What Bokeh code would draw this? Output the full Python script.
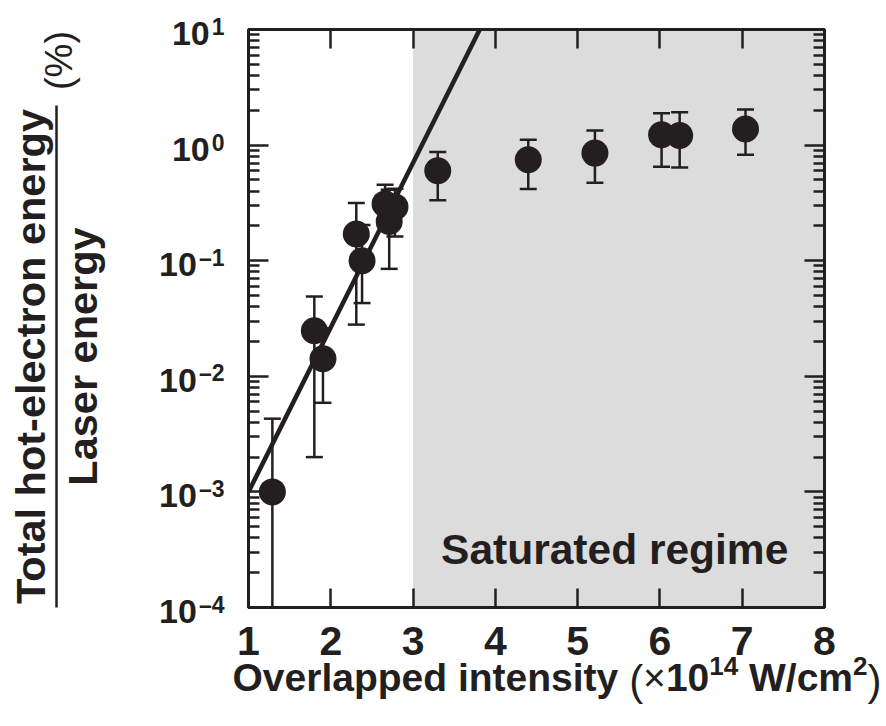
import math
from bokeh.plotting import figure
from bokeh.layouts import column, row
from bokeh.models import Range1d, LinearAxis, LogAxis, FixedTicker, BoxAnnotation, Label
from bokeh.core.properties import value
from bokeh.embed import file_html
from bokeh.resources import INLINE

# ---------------- data ----------------
intensity = [1.29, 1.80, 1.905, 2.31, 2.38, 2.66, 2.71, 2.78, 3.30, 4.40, 5.21, 6.02, 6.24, 7.04]
energy_fraction = [0.0010, 0.0248, 0.0142, 0.170, 0.100, 0.310, 0.218, 0.292, 0.60, 0.746, 0.853, 1.23, 1.21, 1.38]
err_low = [1.0e-4, 0.0020, 0.0059, 0.028, 0.043, 0.200, 0.085, 0.162, 0.334, 0.417, 0.472, 0.65, 0.64, 0.824]
err_high = [0.0043, 0.049, 0.026, 0.316, 0.204, 0.454, 0.410, 0.420, 0.87, 1.11, 1.34, 1.89, 1.92, 2.03]
fit_x = [1.0, 3.81]
fit_y = [1.0e-3, 10.0]
saturated_from = 3.0
saturated_label = "Saturated regime"
x_ticks = [1, 2, 3, 4, 5, 6, 7, 8]
x_tick_labels = ["1", "2", "3", "4", "5", "6", "7", "8"]
y_ticks = [1e-4, 1e-3, 1e-2, 1e-1, 1e0, 1e1]
y_tick_base = "10"
y_tick_exponents = ["\u20134", "\u20133", "\u20132", "\u20131", "0", "1"]
y_title_num = "Total hot-electron energy"
y_title_den = "Laser energy"
y_title_unit = "(%)"
x_title_parts = ["Overlapped intensity", "(", "\u00d7", "10", "14", "W/cm", "2", ")"]

# ---------------- styling / geometry (page pixels) ----------------
INK = "#231f20"
FONT = "Liberation Sans"
SHADE = "#dcdcdc"

TOTAL_W, TOTAL_H = 886, 726
LEFT_W = 230                 # left strip: y tick labels + y title
MAIN_H = 612                 # main plot height
BOT_H = TOTAL_H - MAIN_H     # bottom strip: x tick labels + x title
RIGHT_W = TOTAL_W - LEFT_W
FRAME_L, FRAME_R, FRAME_T, FRAME_B = 248, 824, 29, 607
FW, FH = FRAME_R - FRAME_L, FRAME_B - FRAME_T

BOLD_W = {' ': 278, '\u2013': 556, 'W': 944, '/': 278, 'c': 556, 'm': 889, 'O': 778, 'v': 556,
          'e': 556, 'r': 389, 'l': 278, 'a': 556, 'p': 611, 'd': 611, 'i': 278, 'n': 611,
          't': 333, 's': 556, 'y': 556}
REG_W = {'(': 333, ')': 333, '\u00d7': 584, ' ': 278, '%': 889}


def tw(s, size, bold=True):
    tab = BOLD_W if bold else REG_W
    return sum(tab.get(ch, 556) for ch in s) * size / 1000.0


def x_at(px):
    return 1 + (px - FRAME_L) * 7.0 / FW


def y_at(py):
    return 10 ** (1 - (py - FRAME_T) * 5.0 / FH)


def y_shift(v, dpx):
    return v * 10 ** (-dpx * 5.0 / FH)


def bare(fig):
    fig.background_fill_color = "white"
    fig.border_fill_color = "white"
    fig.outline_line_color = None
    fig.xgrid.visible = False
    fig.ygrid.visible = False


# ---------------- main plot ----------------
p = figure(width=RIGHT_W, height=MAIN_H, x_range=Range1d(1, 8), y_range=Range1d(1e-4, 10),
           y_axis_type="log", output_backend="svg", toolbar_location=None, title=None,
           min_border_left=FRAME_L - LEFT_W, min_border_right=TOTAL_W - FRAME_R,
           min_border_top=FRAME_T, min_border_bottom=MAIN_H - FRAME_B)
p.xgrid.visible = False
p.ygrid.visible = False
p.outline_line_color = INK
p.outline_line_width = 3
p.background_fill_color = "white"
p.border_fill_color = "white"

p.add_layout(BoxAnnotation(left=saturated_from, fill_color=SHADE, fill_alpha=1.0,
                           line_color=None, level="underlay"))


def style_x(ax):
    ax.ticker = FixedTicker(ticks=x_ticks, minor_ticks=[])
    ax.major_tick_in = 19
    ax.major_tick_out = 0
    ax.minor_tick_in = 0
    ax.minor_tick_out = 0
    ax.major_tick_line_width = 2.5
    ax.major_tick_line_color = INK
    ax.axis_line_width = 3
    ax.axis_line_color = INK
    ax.major_label_standoff = 0
    ax.major_label_overrides = {t: "" for t in x_ticks}


y_minor = [m * 10.0 ** e for e in range(-4, 1) for m in range(2, 10)]


def style_y(ax):
    ax.ticker = FixedTicker(ticks=y_ticks, minor_ticks=y_minor)
    ax.major_tick_in = 20
    ax.major_tick_out = 0
    ax.minor_tick_in = 11
    ax.minor_tick_out = 0
    ax.major_tick_line_width = 2.5
    ax.minor_tick_line_width = 2.5
    ax.major_tick_line_color = INK
    ax.minor_tick_line_color = INK
    ax.axis_line_width = 3
    ax.axis_line_color = INK
    ax.major_label_standoff = 0
    ax.major_label_overrides = {t: "" for t in y_ticks}


style_x(p.xaxis[0])
style_y(p.yaxis[0])
top_ax = LinearAxis()
style_x(top_ax)
p.add_layout(top_ax, "above")
right_ax = LogAxis()
style_y(right_ax)
p.add_layout(right_ax, "right")

p.line(fit_x, fit_y, line_width=4.5, line_color=INK)
p.segment(x0=intensity, y0=err_low, x1=intensity, y1=err_high, line_width=2.5, line_color=INK)
p.scatter(intensity, err_low, marker="dash", size=17, line_width=2.5, line_color=INK)
p.scatter(intensity, err_high, marker="dash", size=17, line_width=2.5, line_color=INK)
p.scatter(intensity, energy_fraction, marker="circle", size=27, fill_color=INK, line_color=None)

p.add_layout(Label(x=saturated_from, y=1e-4, x_offset=28, y_offset=FRAME_B - 549, text=saturated_label,
                   text_font=FONT, text_font_style="bold", text_font_size="42.5px",
                   text_color=INK, text_align="left", text_baseline="middle"))

# ---------------- left strip: y tick labels and y title (full height) ----------------
left = figure(width=LEFT_W, height=TOTAL_H, x_range=Range1d(0, LEFT_W),
              y_range=Range1d(y_at(TOTAL_H), y_at(0)), y_axis_type="log",
              x_axis_location=None, y_axis_location=None, min_border=0,
              toolbar_location=None, output_backend="svg", title=None)
bare(left)

SUP = 23
sup_w = [tw(e, SUP) for e in y_tick_exponents]
left.text(x=[FRAME_L - 24 - w - 2 for w in sup_w], y=[y_shift(v, 4) for v in y_ticks],
          text=[y_tick_base] * len(y_ticks), text_font=value(FONT), text_font_style=value("bold"),
          text_font_size=value("34px"), text_color=INK, text_align=value("right"),
          text_baseline=value("middle"))
left.text(x=[FRAME_L - 24 - w for w in sup_w], y=[y_shift(v, -3) for v in y_ticks],
          text=y_tick_exponents, text_font=value(FONT), text_font_style=value("bold"),
          text_font_size=value(f"{SUP}px"), text_color=INK, text_align=value("left"),
          text_baseline=value("middle"))

TITLE_CY = 356
left.text(x=[30, 82], y=[y_at(TITLE_CY)] * 2, text=[y_title_num, y_title_den], angle=math.pi / 2,
          text_font=value(FONT), text_font_style=value("bold"), text_font_size=value("41.5px"),
          text_color=INK, text_align=value("center"), text_baseline=value("middle"))
left.segment(x0=[56], y0=[y_at(105)], x1=[56], y1=[y_at(607)], line_width=2.5, line_color=INK)
left.text(x=[58], y=[y_at(60)], text=[y_title_unit], angle=math.pi / 2,
          text_font=value(FONT), text_font_style=value("normal"), text_font_size=value("38px"),
          text_color=INK, text_align=value("center"), text_baseline=value("middle"))

# ---------------- bottom strip: x tick labels and x title ----------------
bottom = figure(width=RIGHT_W, height=BOT_H, x_range=Range1d(x_at(LEFT_W), x_at(TOTAL_W)),
                y_range=Range1d(BOT_H, 0), x_axis_location=None, y_axis_location=None,
                min_border=0, toolbar_location=None, output_backend="svg", title=None)
bare(bottom)

bottom.text(x=x_ticks, y=[640 - MAIN_H] * len(x_ticks), text=x_tick_labels,
            text_font=value(FONT), text_font_style=value("bold"), text_font_size=value("41px"),
            text_color=INK, text_align=value("center"), text_baseline=value("middle"))

# composite x title: (size, bold, baseline page y, gap before)
BASE = 691
styles = [(39, True, BASE, 0), (42, False, BASE + 4, 0.278 * 39), (39, False, BASE, 0),
          (39, True, BASE, 0), (26, True, BASE - 16, 0), (39, True, BASE, 0.278 * 39),
          (26, True, BASE - 16, 0), (42, False, BASE + 4, 0)]
xs, ys, sizes, fstyles = [], [], [], []
cur = 232
for part, (size, bold, base, gap) in zip(x_title_parts, styles):
    cur += gap
    xs.append(x_at(cur))
    ys.append(base - 0.35 * size - MAIN_H)
    sizes.append(f"{size}px")
    fstyles.append("bold" if bold else "normal")
    cur += tw(part, size, bold)
bottom.text(x=xs, y=ys, text=x_title_parts, text_font=value(FONT), text_font_style=fstyles,
            text_font_size=sizes, text_color=INK, text_align=value("left"),
            text_baseline=value("middle"))

layout = row(left, column(row(p), row(bottom)))
open("out.html", "w").write(file_html(layout, INLINE))
